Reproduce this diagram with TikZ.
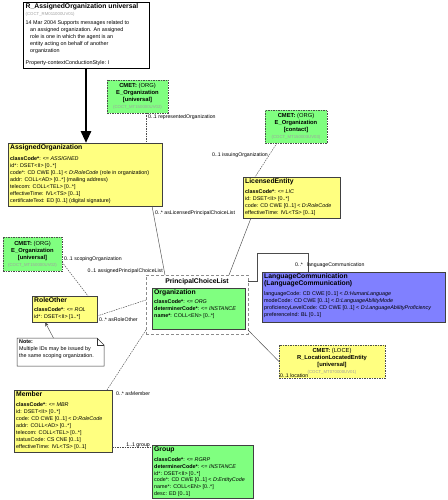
\documentclass[tikz,border=0pt]{standalone}
\usepackage{fontspec}
\setmainfont{Liberation Sans}
\usetikzlibrary{arrows.meta,shadows}
\definecolor{rmyellow}{HTML}{FFFF80}
\definecolor{rmgreen}{HTML}{80FF80}
\definecolor{rmblue}{HTML}{8080FF}
\definecolor{idgrey}{HTML}{A0A0A0}
\newcommand\attrf{\fontsize{5.4}{7}\selectfont}
\newcommand\grpf{\fontsize{5.4}{6.7}\selectfont}
\newcommand\titf{\fontsize{6.8}{8}\selectfont\bfseries}
\newcommand\idf{\fontsize{4.3}{6}\selectfont\color{idgrey}}
\newcommand\cmetf{\fontsize{5.8}{7}\selectfont}
\newcommand\lblf{\fontsize{5.2}{6}\selectfont}
\begin{document}
\begin{tikzpicture}[x=1pt,y=-1pt,
  box/.style={draw=black!75, line width=0.5pt, inner sep=0pt, outer sep=0pt, anchor=north west},
  shad/.style={drop shadow={shadow xshift=1pt,shadow yshift=-1pt,fill=black!55,opacity=1}},
  ybox/.style={box, fill=rmyellow, shad},
  gbox/.style={box, fill=rmgreen, shad},
  bbox/.style={box, fill=rmblue, shad},
  rbox/.style={box, draw=black, line width=0.9pt, fill=white, shad},
  cmetg/.style={box, fill=rmgreen, draw=black!70, line width=0.6pt, dash pattern=on 1.5pt off 1pt},
  cmety/.style={box, fill=rmyellow, draw=black!70, line width=0.6pt, dash pattern=on 1.5pt off 1pt},
  pclbox/.style={box, fill=white, draw=black!45, line width=0.9pt, dash pattern=on 3pt off 2pt},
  notebox/.style={box, draw=none},
  txt/.style={inner sep=0pt, anchor=north west, align=left, font=\attrf},
  ctxt/.style={inner sep=0pt, align=center, font=\cmetf},
  lbl/.style={inner sep=0pt, font=\lblf},
  assoc/.style={draw=black!70, line width=0.45pt},
  dassoc/.style={assoc, dash pattern=on 1.5pt off 1pt},
  bigarrow/.style={draw=black, line width=2.8pt, -{Triangle[length=12pt,width=10pt]}},
  notearrow/.style={assoc, -{Stealth[length=4.5pt,width=3.5pt]}}
]
\fill[white] (0,0) rectangle (447,500);
\useasboundingbox (0,0) rectangle (447,500);

% ---------- boxes ----------
\node[rbox, minimum width=126pt, minimum height=66pt] (rao) at (23,2) {};
\node[cmetg, minimum width=61pt, minimum height=33pt] (cmetA) at (107,80) {};
\node[ybox, minimum width=154pt, minimum height=63pt] (ao) at (8,143) {};
\node[cmetg, minimum width=62pt, minimum height=33pt] (cmetB) at (265,110) {};
\node[ybox, minimum width=97pt, minimum height=41pt] (le) at (243,177) {};
\node[cmetg, minimum width=59pt, minimum height=34pt] (cmetC) at (3,237) {};
\node[pclbox, minimum width=102pt, minimum height=59pt] (pcl) at (146,275) {};
\node[gbox, minimum width=93pt, minimum height=41pt] (org) at (152,288) {};
\node[bbox, minimum width=183pt, minimum height=50pt] (lc) at (262,272) {};
\node[ybox, minimum width=65pt, minimum height=26pt] (ro) at (32,296) {};
\node[notebox, minimum width=87pt, minimum height=28pt] (note) at (17,338) {};
\node[cmety, minimum width=106pt, minimum height=33pt] (cmetD) at (279,345) {};
\node[ybox, minimum width=98pt, minimum height=62pt] (mem) at (14,390) {};
\node[gbox, minimum width=101pt, minimum height=53pt] (grp) at (152,445) {};

% note outline with folded corner
\draw[fill=white, draw=black!80, line width=0.5pt]
  (note.north west) -- ([xshift=-7pt]note.north east) -- ([yshift=-7pt]note.north east)
  -- (note.south east) -- (note.south west) -- cycle;
\draw[draw=black!80, line width=0.5pt]
  ([xshift=-7pt]note.north east) -- ([xshift=-7pt,yshift=-7pt]note.north east) -- ([yshift=-7pt]note.north east);

% ---------- texts ----------
\node[txt] (raoT) at ([xshift=2.5pt,yshift=-1.5pt]rao.north west) {%
{\titf R\_AssignedOrganization universal}\\
{\idf (COCT\_RM011000UV01)}\\[1.5pt]
14 Mar 2004 Supports messages related to\\
\hspace*{4.5pt}an assigned organization. An assigned\\
\hspace*{4.5pt}role is one in which the agent is an\\
\hspace*{4.5pt}entity acting on behalf of another\\
\hspace*{4.5pt}organization\\[5.5pt]
Property-contextConductionStyle: I};

\node[ctxt] (cmetAT) at (cmetA.center) {\textbf{CMET:} (ORG)\\ \textbf{E\_Organization}\\ \textbf{[universal]}\\ {\idf (COCT\_MT150000UV02)}};
\node[ctxt] (cmetBT) at (cmetB.center) {\textbf{CMET:} (ORG)\\ \textbf{E\_Organization}\\ \textbf{[contact]}\\ {\idf (COCT\_MT150003UV03)}};
\node[ctxt] (cmetCT) at (cmetC.center) {\textbf{CMET:} (ORG)\\ \textbf{E\_Organization}\\ \textbf{[universal]}\\ {\idf (COCT\_MT150000UV02)}};
\node[ctxt] (cmetDT) at (cmetD.center) {\textbf{CMET:} (LOCE)\\ \textbf{R\_LocationLocatedEntity}\\ \textbf{[universal]}\\ {\idf (COCT\_MT070000UV01)}};

\node[txt] (aoT) at ([xshift=2pt,yshift=-1.5pt]ao.north west) {%
{\titf AssignedOrganization}\\[3.5pt]
\textbf{classCode*}: <= \textit{ASSIGNED}\\
id*: DSET<II> [0..*]\\
code*: CD CWE [0..1] < \textit{D:RoleCode} (role in organization)\\
addr: COLL<AD> [0..*] (mailing address)\\
telecom: COLL<TEL> [0..*]\\
effectiveTime: IVL<TS> [0..1]\\
certificateText: ED [0..1] (digital signature)};

\node[txt] (leT) at ([xshift=2pt,yshift=-1.5pt]le.north west) {%
{\titf LicensedEntity}\\[2.5pt]
\textbf{classCode*}: <= \textit{LIC}\\
id: DSET<II> [0..*]\\
code: CD CWE [0..1] < \textit{D:RoleCode}\\
effectiveTime: IVL<TS> [0..1]};

\node[font=\titf, inner sep=0pt] (pclT) at ([yshift=-7pt]pcl.north) {PrincipalChoiceList};

\node[txt] (orgT) at ([xshift=2pt,yshift=-1.5pt]org.north west) {%
{\titf Organization}\\[2pt]
\textbf{classCode*}: <= \textit{ORG}\\
\textbf{determinerCode*}: <= \textit{INSTANCE}\\
\textbf{name*}: COLL<EN> [0..*]};

\node[txt] (lcT) at ([xshift=2pt,yshift=-1.5pt]lc.north west) {%
{\titf LanguageCommunication}\\
{\titf (LanguageCommunication)}\\[3pt]
languageCode: CD CWE [0..1] < \textit{D:HumanLanguage}\\
modeCode: CD CWE [0..1] < \textit{D:LanguageAbilityMode}\\
proficiencyLevelCode: CD CWE [0..1] < \textit{D:LanguageAbilityProficiency}\\
preferenceInd: BL [0..1]};

\node[txt] (roT) at ([xshift=2pt,yshift=-1.5pt]ro.north west) {%
{\titf RoleOther}\\[1.5pt]
\textbf{classCode*}: <= \textit{ROL}\\
id*: DSET<II> [1..*]};

\node[txt] (noteT) at ([xshift=2pt,yshift=-2pt]note.north west) {%
\textbf{Note:}\\
Multiple IDs may be issued by\\
the same scoping organization.};

\node[txt] (memT) at ([xshift=2pt,yshift=-1.5pt]mem.north west) {%
{\titf Member}\\[2.5pt]
\textbf{classCode*}: <= \textit{MBR}\\
id: DSET<II> [0..*]\\
code: CD CWE [0..1] < \textit{D:RoleCode}\\
addr: COLL<AD> [0..*]\\
telecom: COLL<TEL> [0..*]\\
statusCode: CS CNE [0..1]\\
effectiveTime: IVL<TS> [0..1]};

\node[txt, font=\grpf] (grpT) at ([xshift=2pt,yshift=-1.5pt]grp.north west) {%
{\titf Group}\\[3.5pt]
\textbf{classCode*}: <= \textit{RGRP}\\
\textbf{determinerCode*}: <= \textit{INSTANCE}\\
id*: DSET<II> [0..*]\\
code*: CD CWE [0..1] < \textit{D:EntityCode}\\
name*: COLL<EN> [0..*]\\
desc: ED [0..1]};

% ---------- connectors ----------
\draw[bigarrow] (rao.south) -- (ao.north -| rao.south);

\draw[dassoc] ([xshift=8.5pt]cmetA.south) -- ([xshift=61pt]ao.north);
\node[lbl, anchor=west] (lRep) at (148,117) {0..1 representedOrganization};

\draw[dassoc] ([xshift=-19pt]cmetB.south) -- ([xshift=-36.5pt]le.north);
\node[lbl, anchor=east] (lIss) at (268,155) {0..1 issuingOrganization};

\draw[assoc] ([xshift=67pt]ao.south) -- ([xshift=-32pt]pcl.north);
\node[lbl, anchor=west] (lAsLic) at (155,213) {0..* asLicensedPrincipalChoiceList};
\node[lbl, anchor=east] (lAssg) at (163,271) {0..1 assignedPrincipalChoiceList};

\draw[assoc] ([xshift=-40.5pt]le.south) -- ([xshift=32pt]pcl.north);

\draw[assoc] ([yshift=-6pt]pcl.north east) -- ++(9,0) -- ++(0,-28) -| ([xshift=-45.5pt]lc.north);
\node[lbl, anchor=west] (lLang) at (295,265) {0..*\hspace{2.5pt} languageCommunication};

\draw[assoc] ([yshift=4pt]pcl.south east) -- (cmetD.west);
\node[lbl, anchor=south west] (lLoc) at (280,377.5) {0..1 location};

\draw[dassoc] ([yshift=-8pt]cmetC.east) -- ([xshift=23.5pt]ro.north);
\node[lbl, anchor=west] (lScope) at (64,259.5) {0..1 scopingOrganization};

\draw[dassoc] ([yshift=-7pt]ro.east) -- ([yshift=4.5pt]pcl.west);
\node[lbl, anchor=west] (lRO) at (99,319.5) {0..* asRoleOther};

\draw[notearrow] ([xshift=-7pt]note.north) -- ([xshift=-19.5pt]ro.south);

\draw[dassoc] ([yshift=4pt]pcl.south west) -- ([xshift=-5pt]mem.north east);
\node[lbl, anchor=west] (lMem) at (116,394) {0..* asMember};

\draw[dassoc] ([yshift=-26pt]mem.east) -- ([yshift=-2pt]grp.north west);
\node[lbl, anchor=east] (lGrp) at (150,445) {1..1 group};
\end{tikzpicture}
\end{document}
